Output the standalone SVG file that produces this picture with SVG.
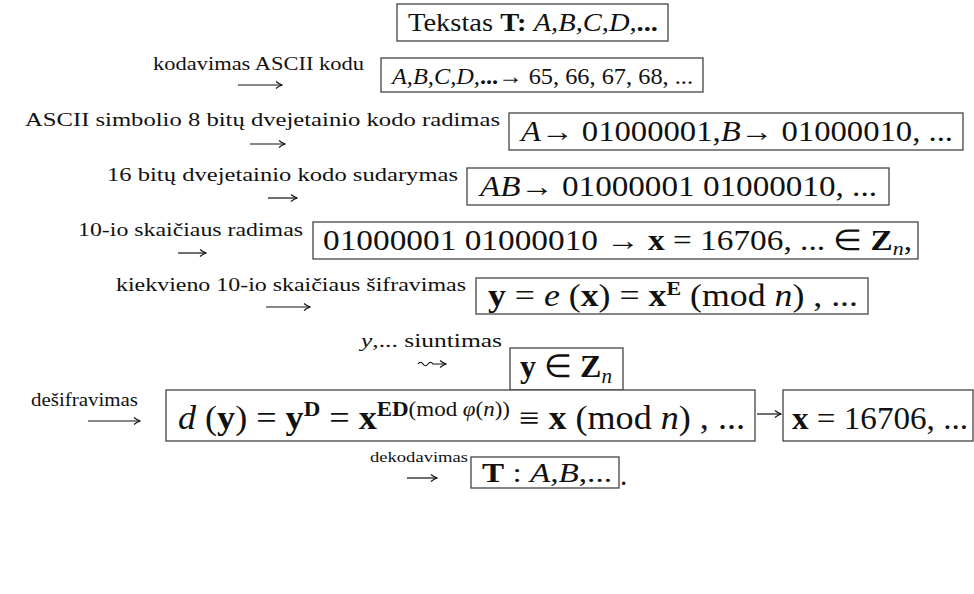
<svg xmlns="http://www.w3.org/2000/svg" width="974" height="594" viewBox="0 0 974 594">
<style>
.lb{font-family:"Liberation Serif","Times New Roman",serif;font-size:19px;fill:#111}
.mt{font-family:"Liberation Serif","Times New Roman",serif;font-size:29px;fill:#111}
.i{font-style:italic}
.b{font-weight:bold}
.bx{fill:#fff;stroke:#444;stroke-width:1.3}
.ar{stroke:#111;stroke-width:1.2;fill:none;marker-end:url(#ah)}
</style>
<defs>
<marker id="ah" markerUnits="userSpaceOnUse" markerWidth="10" markerHeight="10" refX="8" refY="5" orient="auto">
<path d="M2,1.5 Q5,4.2 8.5,5 Q5,5.8 2,8.5" fill="none" stroke="#111" stroke-width="1.1"/>
</marker>
</defs>
<rect width="974" height="594" fill="#fff"/>
<g id="connectors">
<path class="ar" d="M238,85 L282,85"/>
<path class="ar" d="M250,144 L285,144"/>
<path class="ar" d="M268,198 L297,198"/>
<path class="ar" d="M178,253 L206,253"/>
<path class="ar" d="M266,307 L310,307"/>
<path class="ar" d="M418,364 q2.5,-3.5 5,0 t5,0 t5,0 L446,364"/>
<path class="ar" d="M88,421 L140,421"/>
<path class="ar" d="M757,414 L781,414"/>
<path class="ar" d="M407,478 L437,478"/>
</g>
<g id="labels">
<text class="lb" x="153" y="70" textLength="211" lengthAdjust="spacingAndGlyphs">kodavimas ASCII kodu</text>
<text class="lb" x="25" y="126" textLength="475" lengthAdjust="spacingAndGlyphs">ASCII simbolio 8 bitų dvejetainio kodo radimas</text>
<text class="lb" x="107" y="181" textLength="351" lengthAdjust="spacingAndGlyphs">16 bitų dvejetainio kodo sudarymas</text>
<text class="lb" x="78" y="236" textLength="225" lengthAdjust="spacingAndGlyphs">10-io skaičiaus radimas</text>
<text class="lb" x="116" y="291" textLength="350" lengthAdjust="spacingAndGlyphs">kiekvieno 10-io skaičiaus šifravimas</text>
<text class="lb" x="361" y="347" style="font-size:18px" textLength="141" lengthAdjust="spacingAndGlyphs"><tspan class="i">y</tspan>,... siuntimas</text>
<text class="lb" x="31" y="406" textLength="107" lengthAdjust="spacingAndGlyphs">dešifravimas</text>
<text class="lb" x="370" y="462" style="font-size:15px" textLength="98" lengthAdjust="spacingAndGlyphs">dekodavimas</text>
</g>
<g id="n1">
<rect class="bx" x="397" y="4" width="271" height="37"/>
<text class="mt" x="408" y="31" style="font-size:25px" textLength="250" lengthAdjust="spacingAndGlyphs">Tekstas <tspan class="b">T:</tspan> <tspan class="i">A,B,C,D,</tspan><tspan class="b">...</tspan></text>
</g>
<g id="n2">
<rect class="bx" x="381" y="58" width="322" height="34"/>
<text class="mt" x="392" y="84" style="font-size:24px" textLength="301" lengthAdjust="spacingAndGlyphs"><tspan class="i">A,B,C,D,</tspan><tspan class="b">...</tspan>→ 65, 66, 67, 68, ...</text>
</g>
<g id="n3">
<rect class="bx" x="509" y="113" width="454" height="37"/>
<text class="mt" x="521" y="141" textLength="432" lengthAdjust="spacingAndGlyphs"><tspan class="i">A</tspan>→ 01000001,<tspan class="i">B</tspan>→ 01000010, ...</text>
</g>
<g id="n4">
<rect class="bx" x="467" y="168" width="422" height="37"/>
<text class="mt" x="480" y="196" textLength="397" lengthAdjust="spacingAndGlyphs"><tspan class="i">AB</tspan>→ 01000001 01000010, ...</text>
</g>
<g id="n5">
<rect class="bx" x="313" y="222" width="605" height="37"/>
<text class="mt" x="323" y="250" textLength="589" lengthAdjust="spacingAndGlyphs">01000001 01000010 → <tspan class="b">x</tspan> = 16706, ... ∈ <tspan class="b">Z</tspan><tspan class="i" dy="5" style="font-size:19px">n</tspan><tspan dy="-5">,</tspan></text>
</g>
<g id="n6">
<rect class="bx" x="476" y="278" width="392" height="36"/>
<text class="mt" x="488" y="306" style="font-size:31px" textLength="370" lengthAdjust="spacingAndGlyphs"><tspan class="b">y</tspan> = <tspan class="i">e</tspan> (<tspan class="b">x</tspan>) = <tspan class="b">x</tspan><tspan class="b" dy="-11" style="font-size:19px">E</tspan><tspan dy="11"> (mod </tspan><tspan class="i">n</tspan>) , ...</text>
</g>
<g id="n7">
<rect class="bx" x="510" y="348" width="113" height="42"/>
<text class="mt" x="520" y="377" style="font-size:32px" textLength="92" lengthAdjust="spacingAndGlyphs"><tspan class="b">y</tspan> ∈ <tspan class="b">Z</tspan><tspan class="i" dy="6" style="font-size:21px">n</tspan></text>
</g>
<g id="n8">
<rect class="bx" x="166" y="390" width="589" height="51"/>
<text class="mt" x="178" y="429" style="font-size:33px" textLength="567" lengthAdjust="spacingAndGlyphs"><tspan class="i">d</tspan> (<tspan class="b">y</tspan>) = <tspan class="b">y</tspan><tspan class="b" dy="-13" style="font-size:21px">D</tspan><tspan dy="13"> = </tspan><tspan class="b">x</tspan><tspan dy="-13" style="font-size:21px"><tspan class="b">ED</tspan>(mod <tspan class="i">φ</tspan>(<tspan class="i">n</tspan>))</tspan><tspan dy="13"> ≡ </tspan><tspan class="b">x</tspan> (mod <tspan class="i">n</tspan>) , ...</text>
</g>
<g id="n9">
<rect class="bx" x="783" y="390" width="190" height="51"/>
<text class="mt" x="792" y="429" style="font-size:32px" textLength="176" lengthAdjust="spacingAndGlyphs"><tspan class="b">x</tspan> = 16706, ...</text>
</g>
<g id="n10">
<rect class="bx" x="471" y="457" width="148" height="31"/>
<text class="mt" x="482" y="482" style="font-size:28px" textLength="130" lengthAdjust="spacingAndGlyphs"><tspan class="b">T</tspan> : <tspan class="i">A,B</tspan>,...</text>
<text class="mt" x="620" y="485">.</text>
</g>
</svg>
